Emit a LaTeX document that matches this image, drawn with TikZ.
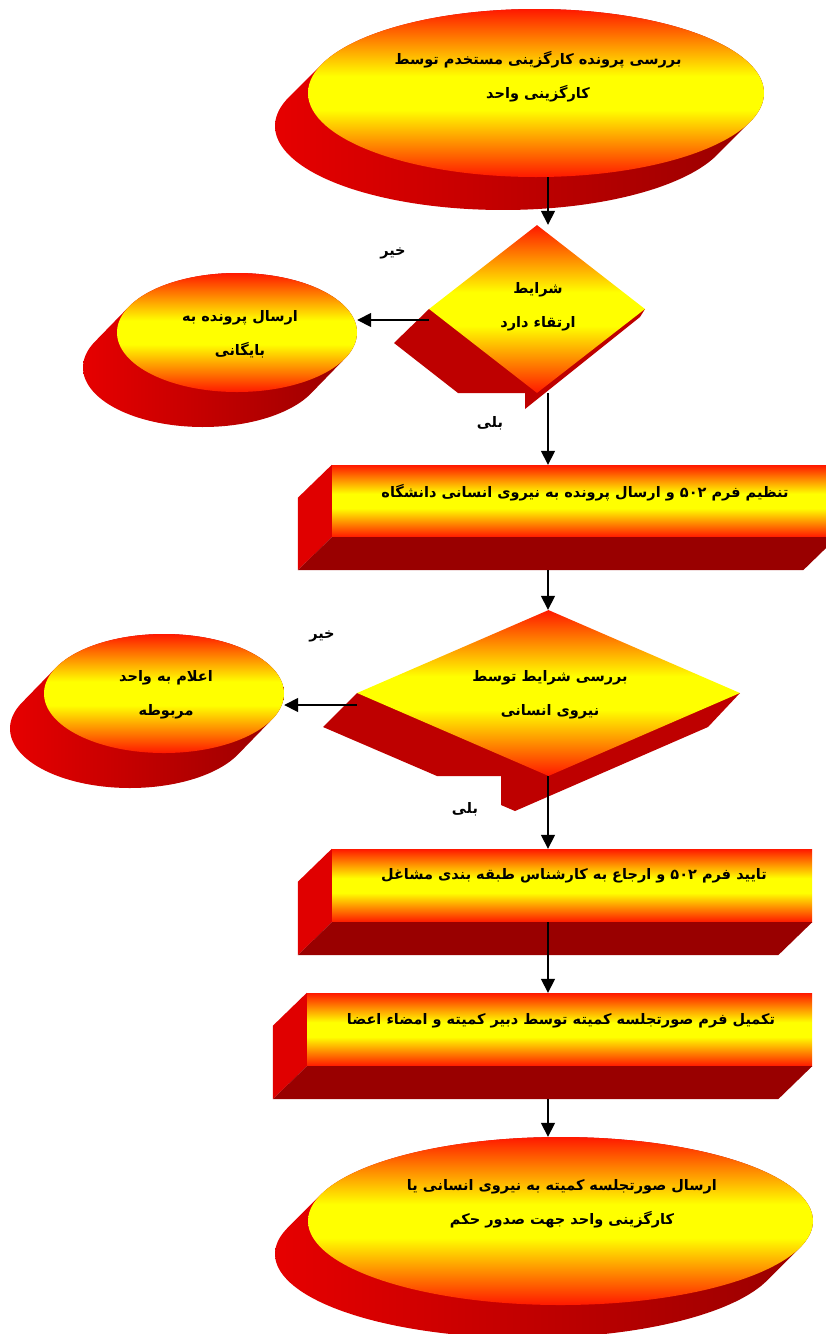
\documentclass[tikz,border=0pt]{standalone}
\usepackage{fontspec}
\usetikzlibrary{shapes.geometric,arrows.meta,calc}
\newfontfamily\fa[Script=Arabic]{DejaVu Sans}
\TeXXeTstate=1
\definecolor{fr}{RGB}{255,24,0}
\definecolor{fo}{RGB}{255,140,0}
\definecolor{fy}{RGB}{255,255,0}
\definecolor{shA}{RGB}{230,0,0}
\definecolor{shB}{RGB}{152,0,0}
\definecolor{sideL}{RGB}{224,0,0}
\definecolor{sideB}{RGB}{153,0,0}
\definecolor{dshadow}{RGB}{190,0,0}
\pgfdeclareverticalshading{fireface}{100bp}{color(0bp)=(fr); color(25bp)=(fr); color(35bp)=(fo); color(45bp)=(fy); color(55bp)=(fy); color(65bp)=(fo); color(75bp)=(fr); color(100bp)=(fr)}
\tikzset{
 face/.style={shade, shading=fireface, draw=none, inner sep=0pt},
 ellface/.style={face, ellipse},
 diaface/.style={face, diamond},
 boxface/.style={face, rectangle},
 ellshadow/.style={left color=shA, right color=shB},
 arr/.style={line width=1.6pt, -{Triangle[length=14pt,width=14pt]}},
 txt/.style={font=\fa\bfseries\fontsize{14.5}{34}\selectfont, align=center, inner sep=0pt},
}
\newcommand\ExtEll[7]{%
 \pgfmathsetmacro\ExTz{atan(-(#5)*(#6)/((#4)*(#7)))}%
 \pgfmathsetmacro\ExTa{\ExTz+180}%
 \pgfmathsetmacro\ExTb{\ExTz+360}%
 \pgfmathsetmacro\ExW{2*(#4)}%
 \pgfmathsetmacro\ExH{2*(#5)}%
 \shade[ellshadow] plot[domain=\ExTz:\ExTa,samples=90] ({#2+(#6)+#4*cos(\x)},{#3+(#7)+#5*sin(\x)}) -- plot[domain=\ExTa:\ExTb,samples=90] ({#2+#4*cos(\x)},{#3+#5*sin(\x)}) -- cycle;
 \node[ellface, minimum width=\ExW pt, minimum height=\ExH pt] (#1) at (#2,#3) {};
}
\begin{document}
\begin{tikzpicture}[x=1pt,y=-1pt]
\useasboundingbox (0,0) rectangle (826,1334);
\clip (0,0) rectangle (826,1334);
\coordinate (spine) at (548,0);
% ellipses
\ExtEll{e1}{536}{93}{228}{84}{-33}{33}
\ExtEll{e2}{237}{332.5}{120}{59.5}{-34}{35}
\ExtEll{e3}{164}{693.5}{120}{59.5}{-34}{35}
\ExtEll{e4}{560.5}{1221}{252.5}{84}{-33}{33}
% diamonds
\fill[dshadow] (429,309) -- (394,343) -- (458,393) -- (525,393) -- (525,409) -- (640,317) -- (645,309) -- cycle;
\node[diaface, minimum width=216pt, minimum height=168pt] (d1) at (537,309) {};
\fill[dshadow] (357,693) -- (323,727) -- (437,776) -- (501,776) -- (501,805) -- (515,811) -- (708,727) -- (740,693) -- cycle;
\node[diaface, minimum width=383pt, minimum height=166pt] (d2) at (548.5,693) {};
% boxes
\node[boxface, minimum width=505pt, minimum height=72pt] (b1) at (584.5,501) {};
\node[boxface, minimum width=480pt, minimum height=73pt] (b2) at (572,885.5) {};
\node[boxface, minimum width=505pt, minimum height=73pt] (b3) at (559.5,1029.5) {};
\foreach \bx in {b1,b2,b3}{
 \fill[sideL] (\bx.north west) -- ++(-34,33) -- ([shift={(-34,33)}]\bx.south west) -- (\bx.south west) -- cycle;
 \fill[sideB] (\bx.south west) -- ++(-34,33) -- ([shift={(-34,33)}]\bx.south east) -- (\bx.south east) -- cycle;
}
% connectors
\draw[arr] (e1.south -| spine) -- (spine |- d1.north);
\draw[arr] (d1.south -| spine) -- (spine |- b1.north);
\draw[arr] ($(b1.south -| spine)+(0,33)$) -- (spine |- d2.north);
\draw[arr] (d2.south -| spine) -- (spine |- b2.north);
\draw[arr] (b2.south -| spine) -- (spine |- b3.north);
\draw[arr] ($(b3.south -| spine)+(0,33)$) -- (spine |- e4.north);
\coordinate (n1) at ($(d1.west)+(0,11)$);
\coordinate (n2) at ($(d2.west)+(0,12)$);
\draw[arr] (n1) -- (n1 -| e2.east);
\draw[arr] (n2) -- (n2 -| e3.east);
% texts
\node[txt] (t1) at (538,77) {\beginR بررسی پرونده کارگزینی مستخدم توسط\endR\\\beginR کارگزینی واحد\endR};
\node[txt] (t2) at (538,307) {\beginR شرایط\endR\\\beginR ارتقاء دارد\endR};
\node[txt] (t3) at (240,334) {\beginR ارسال پرونده به\endR\\\beginR بایگانی\endR};
\node[txt] (t4) at (585,493) {\beginR تنظیم  فرم \beginL ۵۰۲\endL{} و ارسال پرونده به نیروی انسانی دانشگاه\endR};
\node[txt] (t5) at (550,695) {\beginR بررسی شرایط توسط\endR\\\beginR نیروی انسانی\endR};
\node[txt] (t6) at (166,694.5) {\beginR اعلام به واحد\endR\\\beginR مربوطه\endR};
\node[txt] (t7) at (574,876) {\beginR تایید  فرم \beginL ۵۰۲\endL{} و ارجاع به کارشناس طبقه بندی مشاغل\endR};
\node[txt] (t8) at (561,1021) {\beginR تکمیل فرم صورتجلسه کمیته توسط دبیر کمیته و امضاء اعضا\endR};
\node[txt] (t9) at (562,1203.5) {\beginR ارسال صورتجلسه کمیته به نیروی انسانی یا\endR\\\beginR کارگزینی واحد جهت صدور حکم\endR};
\node[txt] (l1) at (393,253) {\beginR خیر\endR};
\node[txt] (l2) at (490,423) {\beginR بلی\endR};
\node[txt] (l3) at (322,636) {\beginR خیر\endR};
\node[txt] (l4) at (465,809) {\beginR بلی\endR};
\end{tikzpicture}
\end{document}
